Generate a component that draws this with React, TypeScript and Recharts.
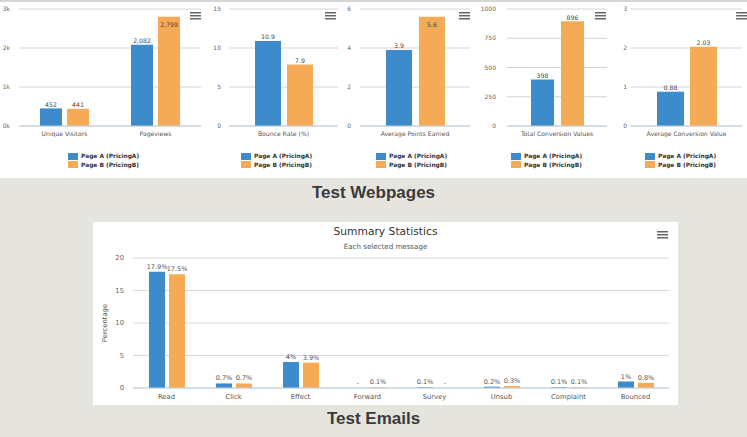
import React from "react";
import { BarChart, Bar, XAxis, YAxis, CartesianGrid, LabelList, Legend } from "recharts";

const seriesNames = ["Page A (PricingA)", "Page B (PricingB)"];

const trafficCategories = ["Unique Visitors", "Pageviews"];
const trafficA = [452, 2082];
const trafficB = [441, 2799];
const trafficTicks = [0, 1000, 2000, 3000];

const bounceCategories = ["Bounce Rate (%)"];
const bounceA = [10.9];
const bounceB = [7.9];
const bounceTicks = [0, 5, 10, 15];

const pointsCategories = ["Average Points Earned"];
const pointsA = [3.9];
const pointsB = [5.6];
const pointsTicks = [0, 2, 4, 6];

const totalConvCategories = ["Total Conversion Values"];
const totalConvA = [398];
const totalConvB = [896];
const totalConvTicks = [0, 250, 500, 750, 1000];

const avgConvCategories = ["Average Conversion Value"];
const avgConvA = [0.88];
const avgConvB = [2.03];
const avgConvTicks = [0, 1, 2, 3];

const emailCategories = ["Read", "Click", "Effect", "Forward", "Survey", "Unsub", "Complaint", "Bounced"];
const emailA = [17.9, 0.7, 4, null, 0.1, 0.2, 0.1, 1];
const emailB = [17.5, 0.7, 3.9, 0.1, null, 0.3, 0.1, 0.8];
const emailTicks = [0, 5, 10, 15, 20];

const BLUE = "#3d8bcb";
const ORANGE = "#f5ab55";
const font = "'DejaVu Sans', sans-serif";

const toRows = (cats: string[], a: (number | null)[], b: (number | null)[]) =>
  cats.map((name, i) => ({ name, a: a[i], b: b[i] }));

const plain = (v: number) => String(v);

// layout of the five small charts
const panels = [
  { cats: trafficCategories, a: trafficA, b: trafficB, ticks: trafficTicks, yFmt: (v: number) => `${v / 1000}k`, valFmt: (v: number) => v.toLocaleString("en-US"), left: 0, width: 202, yWidth: 19, tickGap: 9, right: 1, barSize: 22, barGap: 5, legendLeft: 68, menu: 190 },
  { cats: bounceCategories, a: bounceA, b: bounceB, ticks: bounceTicks, yFmt: plain, valFmt: plain, left: 200, width: 145, yWidth: 29, tickGap: 8, right: 7, barSize: 26, barGap: 6, legendLeft: 41, menu: 325 },
  { cats: pointsCategories, a: pointsA, b: pointsB, ticks: pointsTicks, yFmt: plain, valFmt: plain, left: 345, width: 130, yWidth: 15, tickGap: 9, right: 5, barSize: 26, barGap: 7, legendLeft: 31, menu: 459 },
  { cats: totalConvCategories, a: totalConvA, b: totalConvB, ticks: totalConvTicks, yFmt: plain, valFmt: plain, left: 475, width: 135, yWidth: 32, tickGap: 11, right: 3, barSize: 23, barGap: 7, legendLeft: 36, menu: 595 },
  { cats: avgConvCategories, a: avgConvA, b: avgConvB, ticks: avgConvTicks, yFmt: plain, valFmt: plain, left: 610, width: 137, yWidth: 21, tickGap: 4, right: 5, barSize: 27, barGap: 6, legendLeft: 35, menu: 736 },
];

function Hamburger({ x, y }: { x: number; y: number }) {
  return (
    <svg style={{ position: "absolute", left: x, top: y }} width={11} height={8}>
      {[0.75, 3.75, 6.75].map((yy) => (
        <line key={yy} x1={0} x2={11} y1={yy} y2={yy} stroke="#666" strokeWidth={1.5} />
      ))}
    </svg>
  );
}

const renderLegend = (props: any) => (
  <div>
    {(props.payload || []).map((p: any) => (
      <div key={p.value} style={{ display: "flex", alignItems: "center", height: 8.5 }}>
        <span style={{ width: 10, height: 7, background: p.color, marginRight: 3 }} />
        <span style={{ fontFamily: font, fontSize: 5.9, fontWeight: "bold", color: "#333", whiteSpace: "nowrap" }}>{p.value}</span>
      </div>
    ))}
  </div>
);

const makeTick = (size: number) => (props: any) => (
  <text x={props.x} y={props.y} dy="0.71em" textAnchor="middle" fontSize={size} fill="#555" fontFamily={font}>
    {props.payload.value}
  </text>
);

const makeTopLabel = (fmt: (v: number) => string) => (props: any) => {
  const x = Number(props.x);
  const y = Number(props.y);
  const w = Number(props.width);
  const inside = y < 19;
  return (
    <text x={x + w / 2} y={inside ? y + 7.5 : y - 4} textAnchor="middle" dominantBaseline="central" fontSize={6.2} fontFamily={font} fill="#444">
      {fmt(props.value)}
    </text>
  );
};

const makeEmailLabel = (src: (number | null)[]) => (props: any) => {
  const x = Number(props.x);
  const y = Number(props.y);
  const w = Number(props.width);
  const v = src[props.index];
  return (
    <text x={x + w / 2} y={y - 5} textAnchor="middle" dominantBaseline="central" fontSize={6.5} fontFamily={font} fill="#555">
      {v == null ? "-" : `${v}%`}
    </text>
  );
};

function SmallChart({ p }: { p: (typeof panels)[number] }) {
  const rows = toRows(p.cats, p.a, p.b);
  const edges = p.cats.map((_, i) => i).concat([p.cats.length]);
  const top = p.ticks[p.ticks.length - 1];
  return (
    <div style={{ position: "absolute", left: p.left, top: 0 }}>
      <BarChart width={p.width} height={178} data={rows} margin={{ top: 9, right: p.right, bottom: 21, left: 0 }} barSize={p.barSize} barGap={p.barGap}>
        <CartesianGrid vertical={false} stroke="#d4d4d4" />
        <XAxis xAxisId={0} type="number" dataKey={() => 0} domain={[0, p.cats.length]} ticks={edges} tick={false} axisLine={false} tickLine={{ stroke: "#c0d0e0" }} tickSize={3} height={0} />
        <XAxis xAxisId="cat" dataKey="name" axisLine={{ stroke: "#c0d0e0" }} tickLine={false} tickSize={0} tickMargin={6} height={14} interval={0} tick={makeTick(6.1)} />
        <YAxis width={p.yWidth} domain={[0, top]} ticks={p.ticks} tickFormatter={p.yFmt} axisLine={false} tickLine={false} tickSize={0} tickMargin={p.tickGap} tick={{ fontSize: 6, fill: "#666", fontFamily: font }} />
        <Legend layout="vertical" align="center" verticalAlign="bottom" content={renderLegend} wrapperStyle={{ left: p.legendLeft, top: 152, width: "auto", height: 17, bottom: "auto" }} />
        <Bar xAxisId="cat" dataKey="a" name={seriesNames[0]} fill={BLUE} isAnimationActive={false}>
          <LabelList dataKey="a" content={makeTopLabel(p.valFmt)} />
        </Bar>
        <Bar xAxisId="cat" dataKey="b" name={seriesNames[1]} fill={ORANGE} isAnimationActive={false}>
          <LabelList dataKey="b" content={makeTopLabel(p.valFmt)} />
        </Bar>
      </BarChart>
    </div>
  );
}

export default function App() {
  const emailRows = toRows(emailCategories, emailA, emailB);
  const emailEdges = emailCategories.map((_, i) => i).concat([emailCategories.length]);
  return (
    <div style={{ position: "absolute", left: 0, top: 0, width: 747, height: 437, background: "#e6e4df", overflow: "hidden" }}>
      <div style={{ position: "absolute", left: 0, top: 0, width: 747, height: 178, background: "#fff", borderTop: "2px solid #d6d6d6", boxSizing: "border-box" }} />
      {panels.map((p, i) => (
        <SmallChart key={i} p={p} />
      ))}
      {panels.map((p, i) => (
        <Hamburger key={"m" + i} x={p.menu} y={12} />
      ))}
      <div style={{ position: "absolute", left: 0, width: 747, top: 183, textAlign: "center", fontFamily: "'Liberation Sans', Arial, sans-serif", fontWeight: "bold", fontSize: 17, color: "#3a3a3a", lineHeight: "20px" }}>
        Test Webpages
      </div>

      <div style={{ position: "absolute", left: 93, top: 222, width: 585, height: 183, background: "#fff" }}>
        <div style={{ position: "absolute", left: 0, width: 585, top: 3, textAlign: "center", fontFamily: font, fontSize: 10.7, color: "#333", lineHeight: "14px" }}>Summary Statistics</div>
        <div style={{ position: "absolute", left: 0, width: 585, top: 20, textAlign: "center", fontFamily: font, fontSize: 7.1, color: "#555", lineHeight: "10px" }}>Each selected message</div>
        <BarChart width={585} height={183} data={emailRows} margin={{ top: 36, right: 9, bottom: 0, left: 0 }} barSize={16} barGap={4}>
          <CartesianGrid vertical={false} stroke="#d8d8d8" />
          <XAxis xAxisId={0} type="number" dataKey={() => 0} domain={[0, emailCategories.length]} ticks={emailEdges} tick={false} axisLine={false} tickLine={{ stroke: "#c0d0e0" }} tickSize={5} height={0} />
          <XAxis xAxisId="cat" dataKey="name" axisLine={{ stroke: "#c0d0e0" }} tickLine={false} tickSize={0} tickMargin={6} height={17} interval={0} tick={makeTick(6.8)} />
          <YAxis width={40} domain={[0, 20]} ticks={emailTicks} axisLine={false} tickLine={false} tickSize={0} tickMargin={9} tick={{ fontSize: 6.8, fill: "#666", fontFamily: font }} label={{ value: "Percentage", angle: -90, position: "center", dx: -8, style: { fontSize: 6.8, fill: "#555", fontFamily: font } }} />
          {/* missing values get a hairline rect so the "-" label still has a slot */}
          <Bar xAxisId="cat" dataKey={(r: any) => r.a ?? 0} minPointSize={0.01} name={seriesNames[0]} fill={BLUE} isAnimationActive={false}>
            <LabelList content={makeEmailLabel(emailA)} />
          </Bar>
          <Bar xAxisId="cat" dataKey={(r: any) => r.b ?? 0} minPointSize={0.01} name={seriesNames[1]} fill={ORANGE} isAnimationActive={false}>
            <LabelList content={makeEmailLabel(emailB)} />
          </Bar>
        </BarChart>
        <Hamburger x={564} y={9} />
      </div>

      <div style={{ position: "absolute", left: 0, width: 747, top: 409, textAlign: "center", fontFamily: "'Liberation Sans', Arial, sans-serif", fontWeight: "bold", fontSize: 17, color: "#3a3a3a", lineHeight: "20px" }}>
        Test Emails
      </div>
    </div>
  );
}
